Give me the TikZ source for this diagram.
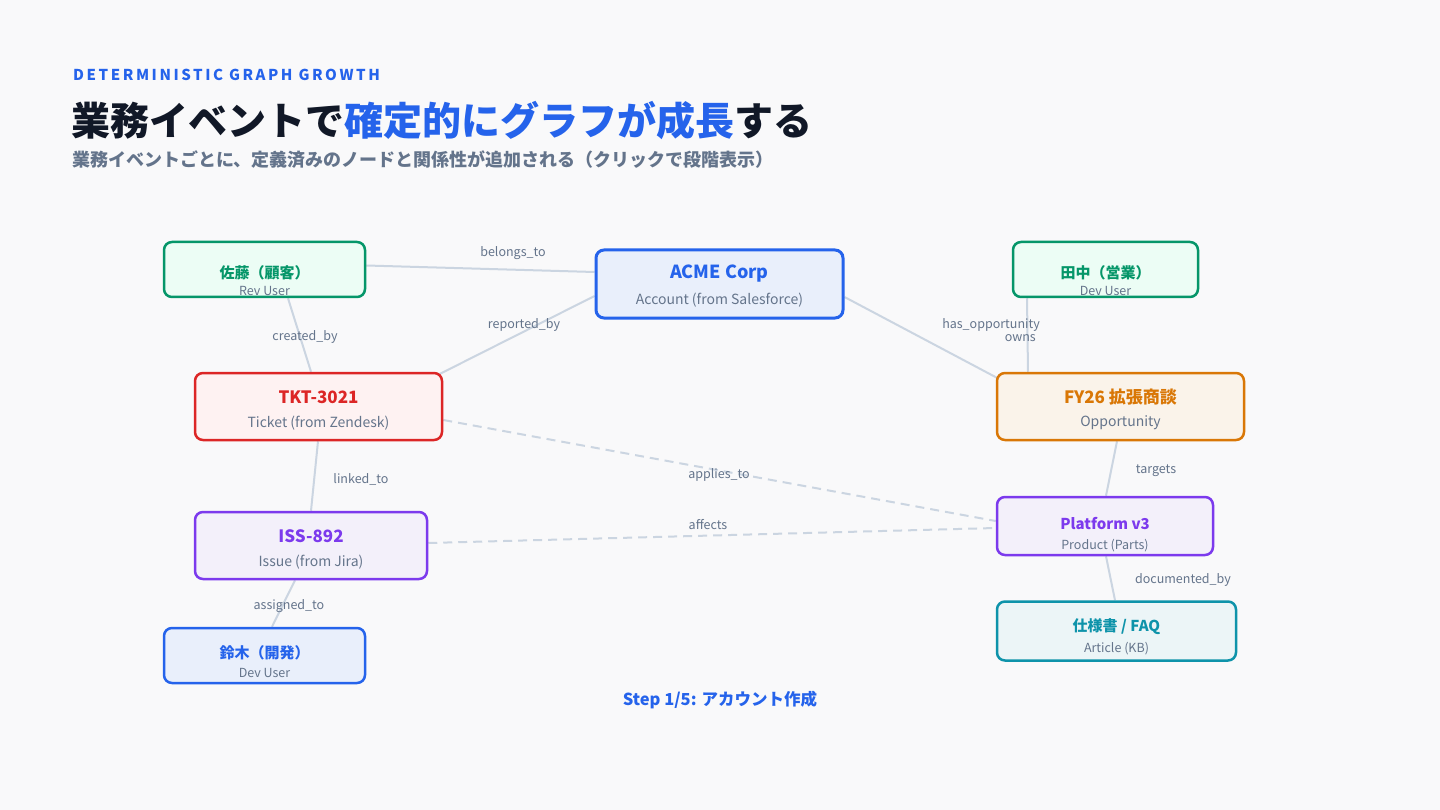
\documentclass[tikz,border=0pt]{standalone}
\usepackage{fontspec}
\setmainfont{Noto Sans CJK JP}
\newfontfamily\capsfont[LetterSpace=17]{Noto Sans CJK JP}
\usetikzlibrary{calc}
\pgfdeclarelayer{back}
\pgfdeclarelayer{bg}
\pgfsetlayers{back,bg,main}
\definecolor{pagebg}{HTML}{F9F9FA}
\definecolor{cedge}{HTML}{CBD5E1}
\definecolor{clabel}{HTML}{64748B}
\definecolor{cdark}{HTML}{111827}
\definecolor{cblue}{HTML}{2563EB}
\definecolor{fblue}{HTML}{E9EFFB}
\definecolor{cgreen}{HTML}{059669}
\definecolor{fgreen}{HTML}{ECFDF5}
\definecolor{cred}{HTML}{DC2626}
\definecolor{fred}{HTML}{FEF2F2}
\definecolor{corange}{HTML}{D97706}
\definecolor{forange}{HTML}{FAF3EA}
\definecolor{cpurple}{HTML}{7C3AED}
\definecolor{fpurple}{HTML}{F3F0FA}
\definecolor{cteal}{HTML}{0E93AA}
\definecolor{fteal}{HTML}{ECF5F7}
\tikzset{
  box/.style={draw, rounded corners=8pt, line width=2.5pt, inner sep=0pt},
  txt/.style={inner sep=0pt, yshift=-2pt},
  bigttl/.style={txt, font=\bfseries\fontsize{18}{21}\selectfont},
  midttl/.style={txt, font=\bfseries\fontsize{17}{20}\selectfont},
  smlttl/.style={txt, font=\bfseries\fontsize{15}{18}\selectfont},
  midsub/.style={txt, font=\fontsize{14}{16}\selectfont, text=clabel},
  smlsub/.style={txt, font=\fontsize{12.5}{14}\selectfont, text=clabel},
  edge/.style={draw=cedge, line width=2pt},
  dashedge/.style={edge, dash pattern=on 9pt off 6pt},
  elabel/.style={txt, font=\fontsize{12.5}{14}\selectfont, text=clabel}
}
\begin{document}
\begin{tikzpicture}[x=1pt,y=-1pt]
\begin{pgfonlayer}{back}
\fill[pagebg] (0,0) rectangle (1440,810);
\end{pgfonlayer}
\useasboundingbox (0,0) rectangle (1440,810);

% header
\node[txt, anchor=west, text=cblue, font=\capsfont\bfseries\fontsize{15}{18}\selectfont] (kicker) at (73,73) {DETERMINISTIC GRAPH GROWTH};
\node[txt, anchor=west, font=\bfseries\fontsize{39}{44}\selectfont] (title) at (71,119) {{\color{cdark}業務イベントで}{\color{cblue}確定的にグラフが成長}{\color{cdark}する}};
\node[txt, anchor=west, text=clabel, font=\bfseries\fontsize{18}{21}\selectfont] (subtitle) at (72,158) {業務イベントごとに、定義済みのノードと関係性が追加される（クリックで段階表示）};

% boxes
\node[box, draw=cgreen, fill=fgreen, minimum width=201pt, minimum height=55pt] (sato) at (264.5,269.5) {};
\node[box, draw=cblue, fill=fblue, line width=3pt, minimum width=247pt, minimum height=68pt] (acme) at (719.5,284) {};
\node[box, draw=cgreen, fill=fgreen, minimum width=185pt, minimum height=55pt] (tanaka) at (1105.5,269.5) {};
\node[box, draw=cred, fill=fred, minimum width=247pt, minimum height=67pt] (tkt) at (318.5,406.5) {};
\node[box, draw=corange, fill=forange, minimum width=247pt, minimum height=67pt] (fy26) at (1120.5,406.5) {};
\node[box, draw=cpurple, fill=fpurple, minimum width=232pt, minimum height=67pt] (iss) at (311,545.5) {};
\node[box, draw=cpurple, fill=fpurple, minimum width=216pt, minimum height=58pt] (plat) at (1105,526) {};
\node[box, draw=cblue, fill=fblue, minimum width=201pt, minimum height=55pt] (suzuki) at (264.5,655.5) {};
\node[box, draw=cteal, fill=fteal, minimum width=239pt, minimum height=59pt] (spec) at (1116.5,631) {};

% box texts
\node[smlttl, text=cgreen] (sato-t) at (264.5,271) {佐藤（顧客）};
\node[smlsub] (sato-s) at (264.5,288.5) {Rev User};
\node[bigttl, text=cblue] (acme-t) at (719.5,271.5) {ACME Corp};
\node[midsub] (acme-s) at (719.5,298) {Account (from Salesforce)};
\node[smlttl, text=cgreen] (tanaka-t) at (1105.5,271) {田中（営業）};
\node[smlsub] (tanaka-s) at (1105.5,288.5) {Dev User};
\node[midttl, text=cred] (tkt-t) at (318.5,395) {TKT-3021};
\node[midsub] (tkt-s) at (318.5,421) {Ticket (from Zendesk)};
\node[midttl, text=corange] (fy26-t) at (1120.5,395) {FY26 拡張商談};
\node[midsub] (fy26-s) at (1120.5,421) {Opportunity};
\node[midttl, text=cpurple] (iss-t) at (311,534) {ISS-892};
\node[midsub] (iss-s) at (311,560) {Issue (from Jira)};
\node[smlttl, text=cpurple] (plat-t) at (1105,522) {Platform v3};
\node[smlsub] (plat-s) at (1105,543.5) {Product (Parts)};
\node[smlttl, text=cblue] (suzuki-t) at (264.5,651) {鈴木（開発）};
\node[smlsub] (suzuki-s) at (264.5,671) {Dev User};
\node[smlttl, text=cteal] (spec-t) at (1116.5,624.5) {仕様書 / FAQ};
\node[smlsub] (spec-s) at (1116.5,646.5) {Article (KB)};

% edges
\begin{pgfonlayer}{bg}
\draw[edge] ([yshift=4pt]sato.east) -- ([yshift=12pt]acme.west);
\draw[edge] ([yshift=-12pt]acme.west) -- ([xshift=-15pt,yshift=-8pt]tkt.north east);
\draw[edge] ([xshift=23.5pt]sato.south) -- ([xshift=-7.5pt]tkt.north);
\draw[edge] ([yshift=-13pt]acme.east) -- ([xshift=3pt,yshift=-7pt]fy26.north west);
\draw[edge] ([xshift=-78.5pt]tanaka.south) -- ([xshift=-92.5pt]fy26.north);
\draw[edge] ([xshift=-0.5pt]tkt.south) -- (iss.north);
\draw[dashedge] ([yshift=-13.5pt]tkt.east) -- ([yshift=5pt]plat.west);
\draw[dashedge] ([yshift=2.5pt]iss.east) -- ([yshift=-2pt]plat.west);
\draw[edge] ([xshift=-3.5pt]fy26.south) -- ([xshift=1pt]plat.north);
\draw[edge] ([xshift=1pt]plat.south) -- ([xshift=-1.5pt]spec.north);
\draw[edge] ([xshift=-16pt]iss.south) -- ([xshift=7.5pt]suzuki.north);
\end{pgfonlayer}

% edge labels
\node[elabel] (l-belongs) at (513,251) {belongs\_to};
\node[elabel] (l-reported) at (524,323) {reported\_by};
\node[elabel] (l-created) at (305,335) {created\_by};
\node[elabel, anchor=east] (l-hasopp) at (1040,322.5) {has\_opportunity};
\node[elabel, anchor=east] (l-owns) at (1036,336) {owns};
\node[elabel] (l-linked) at (361,477) {linked\_to};
\node[elabel] (l-applies) at (719,473) {applies\_to};
\node[elabel] (l-affects) at (708,523) {affects};
\node[elabel] (l-targets) at (1156,469) {targets};
\node[elabel] (l-documented) at (1183,578) {documented\_by};
\node[elabel] (l-assigned) at (289,604) {assigned\_to};

% step
\node[txt, text=cblue, font=\bfseries\fontsize{16.5}{19}\selectfont] (step) at (720,698) {Step 1/5: アカウント作成};
\end{tikzpicture}
\end{document}
